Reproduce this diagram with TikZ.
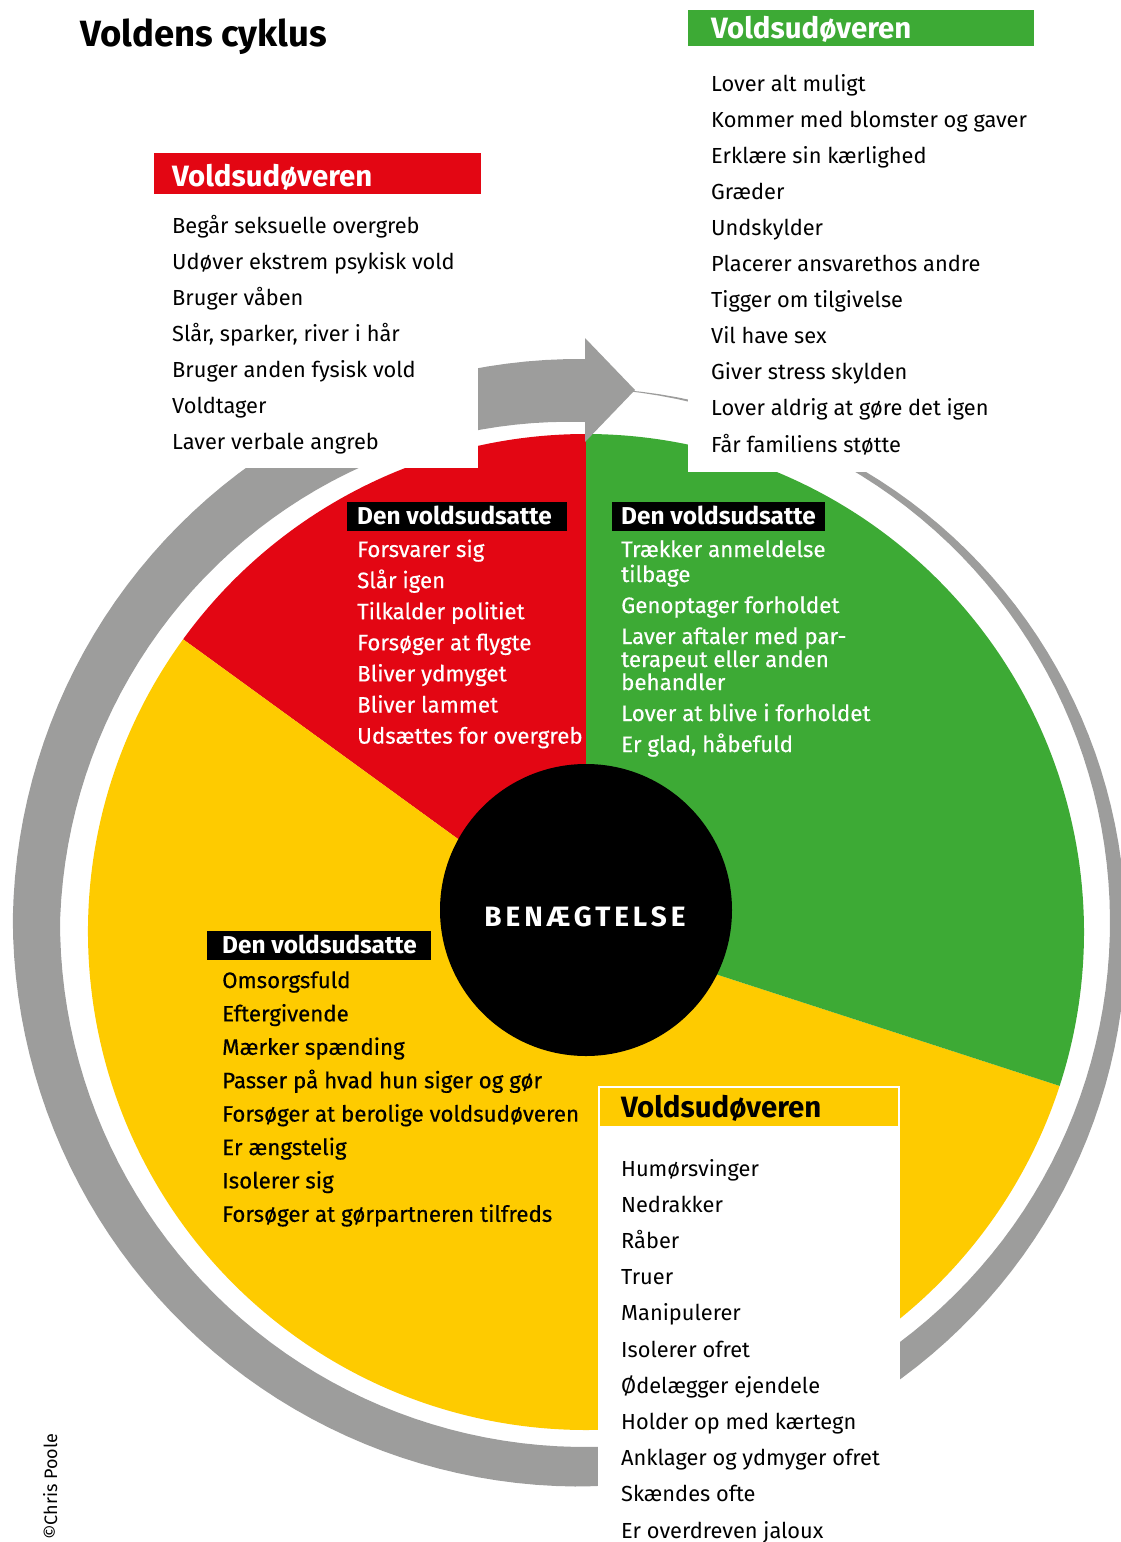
\documentclass[tikz,border=0pt]{standalone}
\usepackage{fontspec}
\setmainfont{Fira Sans}
\newfontfamily\spacedFont{Fira Sans}[LetterSpace=14]
\newfontfamily\mediumFont{Fira Sans}[FakeBold=0.4]
\usetikzlibrary{calc}
\definecolor{wheelRed}{HTML}{E30613}
\definecolor{wheelGreen}{HTML}{3DAA35}
\definecolor{wheelYellow}{HTML}{FECB00}
\definecolor{ringGray}{HTML}{9D9D9C}
\tikzset{
    TitleText/.style={font=\fontsize{36.5}{44}\selectfont\bfseries, anchor=base west, inner sep=0pt},
    HeaderText/.style={font=\fontsize{29.4}{35}\selectfont\bfseries, anchor=base west, inner sep=0pt},
    LabelText/.style={font=\fontsize{24.4}{29}\selectfont\bfseries, text=white, anchor=base west, inner sep=0pt},
    ListText/.style={font=\fontsize{21.8}{27}\selectfont, anchor=base west, inner sep=0pt},
    WedgeText/.style={font=\fontsize{22.3}{27}\selectfont\mediumFont, anchor=base west, inner sep=0pt},
    MaskBox/.style={fill=white}
}
\begin{document}
\begin{tikzpicture}[x=1pt, y=-1pt,
    declare function={rin(\p)=525+9*max(0,1-\p/30)-25*max(0,(\p-270)/90);
                      rout(\p)=rin(\p)+0.175*\p+8*max(0,1-abs(\p-180)/90);}]
    \useasboundingbox (0,0) rectangle (1120,1542);

    % hjulet
    \coordinate (C) at (586,932);
    \fill[wheelRed] (C) -- ++(-90:498) arc[start angle=-90, end angle=-144, radius=498] -- cycle;
    \fill[wheelYellow] (C) -- ++(-144:498) arc[start angle=-144, end angle=-342, radius=498] -- cycle;
    \fill[wheelGreen] (C) -- ++(18:498) arc[start angle=18, end angle=-90, radius=498] -- cycle;
    \fill[black] (586,910) circle[radius=146];

    % grå pil rundt om hjulet
    \fill[ringGray] plot[domain=4:360, samples=180] ({585+rout(\x)*sin(\x)}, {922-rout(\x)*cos(\x)})
        -- plot[domain=360:4, samples=180] ({585+rin(\x)*sin(\x)}, {922-rin(\x)*cos(\x)}) -- cycle;
    \fill[ringGray] (585,338) -- (635,390) -- (585,442) -- cycle;

    % hvide felter bag teksten
    \fill[MaskBox] (0,0) rectangle (478,468);
    \fill[MaskBox] (688,0) rectangle (1120,472);
    \fill[MaskBox] (598,1086) rectangle (900,1542);

    \node[TitleText] (title) at (80,46) {Voldens cyklus};

    % Voldsudøveren: grøn
    \fill[wheelGreen] (688,10) rectangle (1034,46);
    \node[HeaderText, text=white] (greenHead) at (711,38) {Voldsudøveren};
    \foreach \entry [count=\i] in {Lover alt muligt, Kommer med blomster og gaver, Erklære sin kærlighed,
        Græder, Undskylder, Placerer ansvarethos andre, Tigger om tilgivelse, Vil have sex,
        Giver stress skylden, Lover aldrig at gøre det igen, Får familiens støtte}
        \node[ListText] (greenList\i) at (711, {91+36.1*(\i-1)}) {\entry};

    % Voldsudøveren: rød
    \fill[wheelRed] (154,153) rectangle (481,194);
    \node[HeaderText, text=white] (redHead) at (172,186) {Voldsudøveren};
    \foreach \entry [count=\i] in {Begår seksuelle overgreb, Udøver ekstrem psykisk vold, Bruger våben,
        {Slår, sparker, river i hår}, Bruger anden fysisk vold, Voldtager, Laver verbale angreb}
        \node[ListText] (redList\i) at (172, {233+36*(\i-1)}) {\entry};

    % Voldsudøveren: gul
    \fill[wheelYellow] (600,1088) rectangle (898,1126);
    \node[HeaderText] (yellowHead) at (621,1117) {Voldsudøveren};
    \foreach \entry [count=\i] in {Humørsvinger, Nedrakker, Råber, Truer, Manipulerer, Isolerer ofret,
        Ødelægger ejendele, Holder op med kærtegn, Anklager og ydmyger ofret, Skændes ofte,
        Er overdreven jaloux}
        \node[ListText] (yellowList\i) at (621, {1176+36.2*(\i-1)}) {\entry};

    % Den voldsudsatte: rød
    \fill[black] (347,502) rectangle (567,531);
    \node[LabelText] (redVictim) at (357,524) {Den voldsudsatte};
    \foreach \entry [count=\i] in {Forsvarer sig, Slår igen, Tilkalder politiet, Forsøger at flygte,
        Bliver ydmyget, Bliver lammet, Udsættes for overgreb}
        \node[WedgeText, text=white] (redVictim\i) at (357, {557+31.1*(\i-1)}) {\entry};

    % Den voldsudsatte: grøn
    \fill[black] (612,502) rectangle (825,531);
    \node[LabelText] (greenVictim) at (621,524) {Den voldsudsatte};
    \foreach \yy/\entry [count=\i] in {557/Trækker anmeldelse, 582/tilbage, 613/Genoptager forholdet,
        644/Laver aftaler med par-, 667/terapeut eller anden, 690/behandler,
        721/Lover at blive i forholdet, 752/{Er glad, håbefuld}}
        \node[WedgeText, text=white] (greenVictim\i) at (621,\yy) {\entry};

    % Den voldsudsatte: gul
    \fill[black] (207,931) rectangle (431,960);
    \node[LabelText] (yellowVictim) at (222,953) {Den voldsudsatte};
    \foreach \entry [count=\i] in {Omsorgsfuld, Eftergivende, Mærker spænding, Passer på hvad hun siger og gør,
        Forsøger at berolige voldsudøveren, Er ængstelig, Isolerer sig, Forsøger at gørpartneren tilfreds}
        \node[WedgeText] (yellowVictim\i) at (222, {988+33.4*(\i-1)}) {\entry};

    \node[font=\fontsize{28}{33}\selectfont\spacedFont\bfseries, text=white] (denial) at (585,917) {BENÆGTELSE};

    \node[rotate=90, anchor=base west, inner sep=0pt, font=\fontsize{18}{21}\selectfont] (credit) at (57,1540) {©Chris Poole};
\end{tikzpicture}
\end{document}
